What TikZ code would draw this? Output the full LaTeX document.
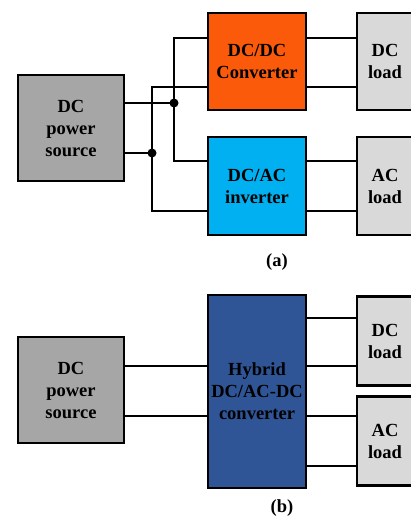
\documentclass[tikz,border=0pt]{standalone}
\usepackage{fontspec}
\setmainfont{Liberation Serif}

\definecolor{srcgray}{RGB}{166,166,166}
\definecolor{convorange}{RGB}{250,90,10}
\definecolor{invblue}{RGB}{0,176,240}
\definecolor{loadgray}{RGB}{217,217,217}
\definecolor{hybblue}{RGB}{47,85,151}

\tikzset{
	block/.style={draw, line width=2.4pt, inner sep=0pt, align=center,
		font=\fontsize{18.5}{22}\selectfont\bfseries},
	wire/.style={line width=1.3pt},
	junction/.style={circle, fill, inner sep=0pt, minimum size=9pt},
	caption/.style={font=\fontsize{18.5}{22}\selectfont\bfseries},
}

\begin{document}
\begin{tikzpicture}[x=1pt, y=-1pt]
	\useasboundingbox (0,0) rectangle (410,518);
	% Part (a): blocks
	\node[block, fill=srcgray, minimum width=106, minimum height=106] (srcA) at (71,128) {DC\\power\\source};
	\node[block, fill=convorange, minimum width=98, minimum height=97] (dcdc) at (257,61.5) {DC/DC\\Converter};
	\node[block, fill=invblue, minimum width=98, minimum height=98] (dcac) at (257,186) {DC/AC\\inverter};
	\node[block, fill=loadgray, minimum width=56, minimum height=97] (dcloadA) at (385,61.5) {DC\\load};
	\node[block, fill=loadgray, minimum width=56, minimum height=98] (acloadA) at (385,186) {AC\\load};
	\node[caption] (capA) at (277,262) {(a)};
	% Part (a): wires
	\coordinate (ja) at (174,103);
	\coordinate (jb) at (152,153);
	\draw[wire] (srcA.east |- ja) -- (ja);
	\draw[wire] (srcA.east |- jb) -- (jb);
	\draw[wire] (dcdc.west |- 0,38) -| (ja) |- (dcac.west |- 0,161);
	\draw[wire] (dcdc.west |- 0,87) -| (jb) |- (dcac.west |- 0,211);
	\draw[wire] (dcdc.east |- 0,38) -- (dcloadA.west |- 0,38);
	\draw[wire] (dcdc.east |- 0,87) -- (dcloadA.west |- 0,87);
	\draw[wire] (dcac.east |- 0,161) -- (acloadA.west |- 0,161);
	\draw[wire] (dcac.east |- 0,211) -- (acloadA.west |- 0,211);
	\node[junction] at (ja) {};
	\node[junction] at (jb) {};
	% Part (b): blocks
	\node[block, fill=srcgray, minimum width=106, minimum height=106] (srcB) at (71,390) {DC\\power\\source};
	\node[block, fill=hybblue, minimum width=98, minimum height=193] (hybrid) at (257,391.5) {Hybrid\\DC/AC-DC\\converter};
	\node[block, fill=loadgray, minimum width=56, minimum height=89] (dcloadB) at (385,341) {DC\\load};
	\node[block, fill=loadgray, minimum width=56, minimum height=89] (acloadB) at (385,441) {AC\\load};
	\node[caption] (capB) at (282,508) {(b)};
	% Part (b): wires
	\draw[wire] (srcB.east |- 0,366) -- (hybrid.west |- 0,366);
	\draw[wire] (srcB.east |- 0,416) -- (hybrid.west |- 0,416);
	\draw[wire] (hybrid.east |- 0,318) -- (dcloadB.west |- 0,318);
	\draw[wire] (hybrid.east |- 0,366) -- (dcloadB.west |- 0,366);
	\draw[wire] (hybrid.east |- 0,416) -- (acloadB.west |- 0,416);
	\draw[wire] (hybrid.east |- 0,466) -- (acloadB.west |- 0,466);
\end{tikzpicture}
\end{document}
